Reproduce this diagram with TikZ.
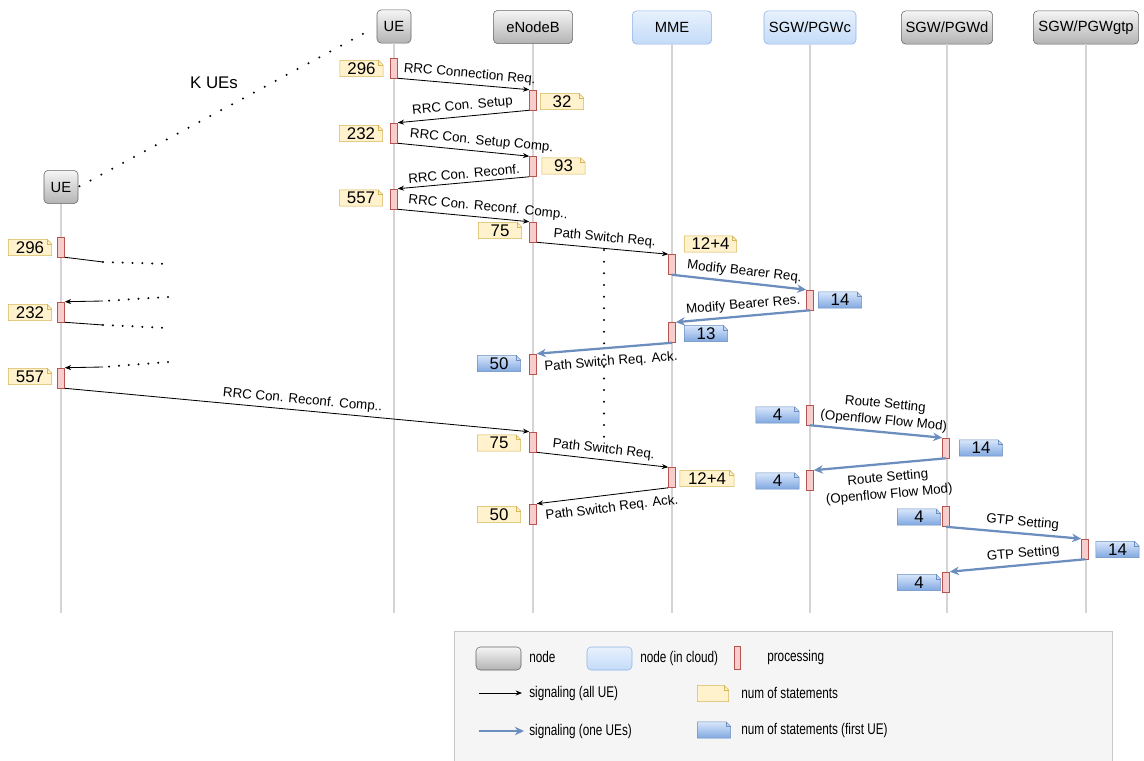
\documentclass[tikz,border=0pt]{standalone}
\usepackage{fontspec}
\setmainfont{Liberation Sans}
\newfontfamily\lgfont[FakeStretch=0.76]{Liberation Sans}
\usetikzlibrary{arrows.meta}
\definecolor{entd}{HTML}{666666}
\definecolor{entt}{HTML}{F5F5F5}
\definecolor{entb}{HTML}{B3B3B3}
\definecolor{cloudd}{HTML}{8FB5E8}
\definecolor{cloudt}{HTML}{E8F1FD}
\definecolor{cloudb}{HTML}{C3DBF8}
\definecolor{procf}{HTML}{F8CECC}
\definecolor{procd}{HTML}{B85450}
\definecolor{notey}{HTML}{FFF2CC}
\definecolor{noteyd}{HTML}{D6B656}
\definecolor{noteb}{HTML}{DAE8FC}
\definecolor{notebb}{HTML}{7EA6E0}
\definecolor{notebd}{HTML}{6C8EBF}
\definecolor{sigc}{HTML}{6C8EBF}
\definecolor{lifec}{HTML}{D4D4D4}
\definecolor{lgf}{HTML}{F5F5F5}
\definecolor{lgd}{HTML}{C8C8C8}
\begin{document}
\begin{tikzpicture}[
    x=0.025cm, y=-0.025cm,
    entity/.style={rounded corners=3pt, draw=entd, top color=entt, bottom color=entb, minimum height=0.83cm, inner sep=2pt, font=\fontsize{10.5}{12}\selectfont},
    cloudnode/.style={entity, draw=cloudd, top color=cloudt, bottom color=cloudb},
    proc/.style={draw=procd, fill=procf, minimum width=0.175cm, minimum height=0.5cm, inner sep=0pt},
    statnote/.style n args={3}{minimum width=1.1cm, minimum height=0.43cm, inner sep=0pt, font=\fontsize{12}{12}\selectfont,
        path picture={
            \shadedraw[top color=#1, bottom color=#2, draw=#3]
                ([shift={(.3pt,.3pt)}]path picture bounding box.south west)
                -- ([shift={(.3pt,-.3pt)}]path picture bounding box.north west)
                -- ([shift={(-3.5pt,-.3pt)}]path picture bounding box.north east)
                -- ([shift={(-.3pt,-3.5pt)}]path picture bounding box.north east)
                -- ([shift={(-.3pt,.3pt)}]path picture bounding box.south east) -- cycle;
            \draw[#3] ([shift={(-3.5pt,-.3pt)}]path picture bounding box.north east)
                -- ([shift={(-3.5pt,-3.5pt)}]path picture bounding box.north east)
                -- ([shift={(-.3pt,-3.5pt)}]path picture bounding box.north east);
        }},
    ynote/.style={statnote={notey}{notey}{noteyd}},
    bnote/.style={statnote={noteb}{notebb}{notebd}},
    lifeline/.style={draw=lifec, line width=1pt},
    sig/.style={-{Stealth[length=4.5pt,width=3.6pt]}, line width=0.6pt},
    sigb/.style={-{Stealth[length=6.5pt,width=6pt]}, line width=1.6pt, draw=sigc},
    lbl/.style={sloped, inner sep=2.5pt, font=\fontsize{9.5}{12}\selectfont},
    lblb/.style={lbl, below, inner sep=5pt},
    dotline/.style={dash pattern=on 0pt off 7pt, line cap=round, line width=1.6pt},
    lgtext/.style={anchor=west, inner sep=0pt, font=\lgfont\fontsize{11}{13}\selectfont}
]
    \path[use as bounding box, fill=white] (0,0) rectangle (1144,761);

    % --- LEGEND FRAME ---
    \draw[draw=lgd, fill=lgf] (454,631) rectangle (1112,775);

    % --- HEADERS AND LIFELINES ---
    \node[entity, minimum width=0.85cm] (uek) at (61,187) {UE};
    \node[entity, minimum width=0.85cm] (ue) at (394,26.5) {UE};
    \node[entity, minimum width=1.98cm] (enb) at (533,27) {eNodeB};
    \node[cloudnode, minimum width=1.98cm] (mme) at (672,27.5) {MME};
    \node[cloudnode, minimum width=2.3cm] (sgwc) at (810,27.5) {SGW/PGWc};
    \node[entity, minimum width=2.28cm] (sgwd) at (947,27.5) {SGW/PGWd};
    \node[entity, minimum width=2.63cm] (sgwgtp) at (1086,27.5) {SGW/PGWgtp};
    \coordinate (bottom) at (0,613);
    \foreach \n in {uek,ue,enb,mme,sgwc,sgwd,sgwgtp}
        \draw[lifeline] (\n.south) -- (\n.south |- bottom);

    \draw[dotline, dash pattern=on 0pt off 8.8pt, shorten <=1pt, shorten >=8pt] (uek.east) -- (ue.west);
    \node[font=\fontsize{12}{14}\selectfont] (kues) at (214,83) {K UEs};

    % --- PROCESSING BARS ---
    \node[proc] (p1) at (394,68) {};
    \node[proc] (p2) at (533,100) {};
    \node[proc] (p3) at (394,133) {};
    \node[proc] (p4) at (533,166.5) {};
    \node[proc] (p5) at (394,199) {};
    \node[proc] (p6) at (533,232) {};
    \node[proc] (p7) at (672,264.5) {};
    \node[proc] (p8) at (810,300) {};
    \node[proc] (p9) at (672,332.5) {};
    \node[proc] (p10) at (533,364) {};
    \node[proc] (q1) at (61,247) {};
    \node[proc] (q2) at (61,312) {};
    \node[proc] (q3) at (61,378) {};
    \node[proc] (p11) at (533,442) {};
    \node[proc] (p12) at (672,477.5) {};
    \node[proc] (p13) at (533,514) {};
    \node[proc] (r1) at (810,415) {};
    \node[proc] (r2) at (946,448) {};
    \node[proc] (r3) at (810,480.5) {};
    \node[proc] (r4) at (946,516.5) {};
    \node[proc] (r5) at (1085,549) {};
    \node[proc] (r6) at (946,582) {};

    % --- STATEMENT COUNTS ---
    \node[ynote] (n1) at (361.5,68.5) {296};
    \node[ynote] (n2) at (562,101.5) {32};
    \node[ynote] (n3) at (361,133.5) {232};
    \node[ynote] (n4) at (563.5,166) {93};
    \node[ynote] (n5) at (361,198) {557};
    \node[ynote] (n6) at (500,230.5) {75};
    \node[ynote, minimum width=1.33cm] (n7) at (710.5,244) {12+4};
    \node[bnote] (n8) at (840,300) {14};
    \node[bnote] (n9) at (706,333.5) {13};
    \node[bnote] (n10) at (499,363.5) {50};
    \node[ynote] (m1) at (30,247.5) {296};
    \node[ynote] (m2) at (30,312.5) {232};
    \node[ynote] (m3) at (30,376.5) {557};
    \node[ynote] (n11) at (499,443) {75};
    \node[ynote, minimum width=1.38cm] (n12) at (707,478.5) {12+4};
    \node[ynote] (n13) at (499,514.5) {50};
    \node[bnote] (s1) at (777.5,415) {4};
    \node[bnote] (s2) at (981,448) {14};
    \node[bnote] (s3) at (777.5,481) {4};
    \node[bnote] (s4) at (919,517) {4};
    \node[bnote] (s5) at (1117.5,549.5) {14};
    \node[bnote] (s6) at (919,582.5) {4};

    % --- SIGNALING (ONE UE) ---
    \draw[sig] (p1.south east) -- node[lbl, above, pos=.54] {RRC Connection Req.} (p2.north west);
    \draw[sig] (p2.south west) -- node[lbl, above, pos=.5] {RRC Con. Setup} (p3.north east);
    \draw[sig] (p3.south east) -- node[lbl, above, pos=.63] {RRC Con. Setup Comp.} (p4.north west);
    \draw[sig] (p4.south west) -- node[lbl, above, pos=.49] {RRC Con. Reconf.} (p5.north east);
    \draw[sig] (p5.south east) -- node[lbl, above, pos=.68] {RRC Con. Reconf. Comp..} (p6.north west);
    \draw[sig] (p6.south east) -- node[lbl, above, pos=.51] {Path Switch Req.} (p7.north west);
    \draw[sigb] (p7.south) -- node[lbl, above, pos=.53] {Modify Bearer Req.} (p8.north west);
    \draw[sigb] (p8.south) -- node[lbl, above, pos=.49] {Modify Bearer Res.} (p9.north east);
    \draw[sigb] (p9.south) -- node[lblb, pos=.46] {Path Switch Req. Ack.} (p10.north east);

    % --- K UEs ---
    \coordinate (d1) at (103,262); \coordinate (e1) at (168,264);
    \coordinate (d2) at (103,301); \coordinate (e2) at (168,297);
    \coordinate (d3) at (103,325); \coordinate (e3) at (168,328);
    \coordinate (d4) at (103,367); \coordinate (e4) at (168,362);
    \draw[line width=0.6pt] (q1.south east) -- (d1);
    \draw[dotline] (d1) -- (e1);
    \draw[dotline] (e2) -- (d2);
    \draw[sig] (d2) -- (q2.north east);
    \draw[line width=0.6pt] (q2.south east) -- (d3);
    \draw[dotline] (d3) -- (e3);
    \draw[dotline] (e4) -- (d4);
    \draw[sig] (d4) -- (q3.north east);
    \draw[sig] (q3.south east) -- node[lbl, above, pos=.51] {RRC Con. Reconf. Comp..} (p11.north west);
    \draw[sig] (p11.south east) -- node[lbl, above, pos=.5] {Path Switch Req.} (p12.north west);
    \draw[sig] (p12.south west) -- node[lblb, pos=.44] {Path Switch Req. Ack.} (p13.north east);
    \coordinate (vd1) at (604,250); \coordinate (vd2) at (604,440);
    \draw[dotline, dash pattern=on 0pt off 8.3pt] (vd1) -- (vd2);

    % --- SDN SETTINGS ---
    \draw[sigb] (r1.south) -- node[lbl, above, pos=.55, align=center] {Route Setting\\(Openflow Flow Mod)} (r2.north west);
    \draw[sigb] (r2.south) -- node[lblb, pos=.45, align=center] {Route Setting\\(Openflow Flow Mod)} (r3.north east);
    \draw[sigb] (r4.south) -- node[lbl, above, pos=.56] {GTP Setting} (r5.north west);
    \draw[sigb] (r5.south) -- node[lbl, above, pos=.45] {GTP Setting} (r6.north east);

    % --- LEGEND ---
    \node[entity, minimum width=1.125cm, minimum height=0.575cm] (lgnode) at (498.5,658.5) {};
    \node[lgtext] (lgnodet) at (529,657) {node};
    \node[cloudnode, minimum width=1.125cm, minimum height=0.575cm] (lgcloud) at (609.5,658.5) {};
    \node[lgtext] (lgcloudt) at (640,658) {node (in cloud)};
    \node[proc, minimum width=0.15cm, minimum height=0.575cm] (lgproc) at (737,657.5) {};
    \node[lgtext] (lgproct) at (767,657) {processing};
    \coordinate (lgsa) at (479,693); \coordinate (lgsb) at (522,693);
    \draw[sig] (lgsa) -- (lgsb);
    \node[lgtext] (lgsigt) at (529,693) {signaling (all UE)};
    \node[ynote, minimum width=0.8cm] (lgyn) at (713,693.5) {};
    \node[lgtext] (lgynt) at (741,693) {num of statements};
    \coordinate (lgba) at (479,731); \coordinate (lgbb) at (524,731);
    \draw[sigb] (lgba) -- (lgbb);
    \node[lgtext] (lgsigbt) at (529,731) {signaling (one UEs)};
    \node[bnote, minimum width=0.85cm] (lgbn) at (714,730) {};
    \node[lgtext] (lgbnt) at (741,730) {num of statements (first UE)};
\end{tikzpicture}
\end{document}
